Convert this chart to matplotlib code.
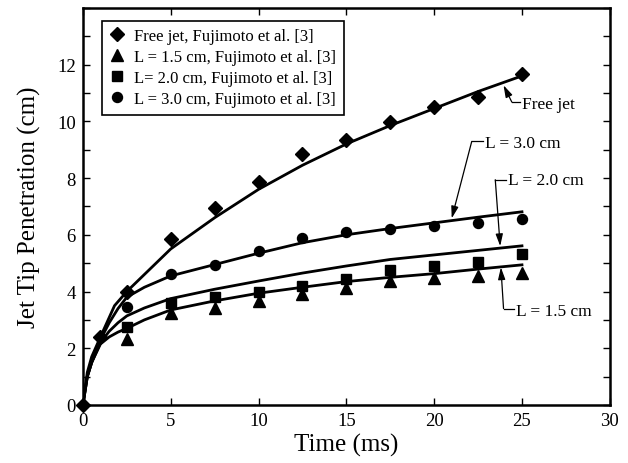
import matplotlib
matplotlib.use("Agg")
import matplotlib.pyplot as plt
from matplotlib.ticker import MultipleLocator

plt.rcParams['font.family'] = ['Liberation Serif', 'DejaVu Serif']
plt.rcParams['mathtext.fontset'] = 'stix'

# Model predictions (ms, cm)
free_model_t = [0, 0.25, 0.5, 1.0, 1.8, 2.5, 3.5, 5, 7.5, 10, 12.5, 15, 17.5, 20, 22.5, 25]
free_model_v = [0, 1.15, 1.7, 2.4, 3.5, 4.0, 4.6, 5.5, 6.6, 7.6, 8.45, 9.2, 9.85, 10.45, 11.05, 11.6]

model_t = [0, 0.25, 0.5, 1, 1.5, 2, 2.5, 3.5, 5, 7.5, 10, 12.5, 15, 17.5, 20, 22.5, 25]
l30_model = [0, 1.0, 1.5, 2.3, 2.9, 3.4, 3.8, 4.15, 4.55, 4.95, 5.35, 5.72, 6.0, 6.22, 6.42, 6.62, 6.81]
l20_model = [0, 1.0, 1.5, 2.2, 2.6, 2.9, 3.14, 3.42, 3.75, 4.08, 4.37, 4.65, 4.9, 5.13, 5.29, 5.45, 5.61]
l15_model = [0, 1.0, 1.5, 2.15, 2.4, 2.57, 2.7, 3.0, 3.35, 3.67, 3.94, 4.15, 4.35, 4.5, 4.63, 4.79, 4.94]

# Measurements, Fujimoto et al. [3]
free_exp_t = [0, 1, 2.5, 5, 7.5, 10, 12.5, 15, 17.5, 20, 22.5, 25]
free_exp = [0, 2.4, 3.99, 5.85, 6.93, 7.87, 8.85, 9.35, 9.99, 10.5, 10.85, 11.65]
exp_t = [2.5, 5, 7.5, 10, 12.5, 15, 17.5, 20, 22.5, 25]
l15_exp = [2.34, 3.26, 3.41, 3.68, 3.9, 4.12, 4.37, 4.46, 4.55, 4.67]
l20_exp = [2.76, 3.59, 3.79, 4.0, 4.2, 4.45, 4.76, 4.9, 5.05, 5.32]
l30_exp = [3.47, 4.61, 4.93, 5.42, 5.9, 6.11, 6.2, 6.3, 6.4, 6.55]

legend_labels = ["Free jet, Fujimoto et al. [3]",
                 "L = 1.5 cm, Fujimoto et al. [3]",
                 "L= 2.0 cm, Fujimoto et al. [3]",
                 "L = 3.0 cm, Fujimoto et al. [3]"]

fig = plt.figure(figsize=(6.28, 4.64), dpi=100)
ax = fig.add_axes([0.132, 0.125, 0.839, 0.856])

lw = 2.0
ax.plot(free_model_t, free_model_v, color='black', lw=lw, zorder=2)
ax.plot(model_t, l30_model, color='black', lw=lw, zorder=2)
ax.plot(model_t, l20_model, color='black', lw=lw, zorder=2)
ax.plot(model_t, l15_model, color='black', lw=lw, zorder=2)

h1, = ax.plot(free_exp_t, free_exp, ls='none', marker='D', ms=7.6, color='black',
              label=legend_labels[0], zorder=3, clip_on=False)
h2, = ax.plot(exp_t, l15_exp, ls='none', marker='^', ms=8.6, color='black',
              label=legend_labels[1], zorder=3)
h3, = ax.plot(exp_t, l20_exp, ls='none', marker='s', ms=6.8, color='black',
              label=legend_labels[2], zorder=3)
h4, = ax.plot(exp_t, l30_exp, ls='none', marker='o', ms=7.2, color='black',
              label=legend_labels[3], zorder=3)

ax.set_xlim(0, 30)
ax.set_ylim(0, 14)
ax.xaxis.set_major_locator(MultipleLocator(5))
ax.yaxis.set_major_locator(MultipleLocator(2))
ax.yaxis.set_minor_locator(MultipleLocator(1))
ax.set_yticks([0, 2, 4, 6, 8, 10, 12])
ax.tick_params(axis='both', which='both', direction='in', top=True, right=True,
               labelsize=13.5, width=1.0, length=5, pad=5, colors='black')
for s in ax.spines.values():
    s.set_linewidth(1.8)

ax.set_xlabel("Time (ms)", fontsize=18, labelpad=3)
ax.set_ylabel("Jet Tip Penetration (cm)", fontsize=18, labelpad=12)

leg = ax.legend(handles=[h1, h2, h3, h4], loc='upper left',
                bbox_to_anchor=(0.036, 0.968), borderaxespad=0,
                fontsize=12, frameon=True, fancybox=False, framealpha=1,
                edgecolor='black', handlelength=0.9, handletextpad=0.6,
                labelspacing=0.3, borderpad=0.45)
leg.get_frame().set_linewidth(1.2)

arrow_kw = dict(arrowstyle='-|>,head_length=0.6,head_width=0.18', color='black', lw=0.9,
                mutation_scale=12, shrinkA=0, shrinkB=0)
ann_fs = 12.5

def callout(text, text_xy, elbow_xy, tip_xy):
    ax.text(text_xy[0], text_xy[1], text, fontsize=ann_fs, ha='left', va='center')
    ax.plot([elbow_xy[0], text_xy[0] - 0.1], [elbow_xy[1], elbow_xy[1]],
            color='black', lw=0.9)
    ax.annotate('', xy=tip_xy, xytext=elbow_xy, arrowprops=arrow_kw)

callout("Free jet", (25.0, 10.6), (24.42, 10.68), (23.95, 11.27))
callout("L = 3.0 cm", (22.9, 9.25), (22.14, 9.29), (21.0, 6.58))
callout("L = 2.0 cm", (24.2, 7.92), (23.48, 7.94), (23.76, 5.6))
callout("L = 1.5 cm", (24.65, 3.33), (23.95, 3.40), (23.8, 4.85))

fig.savefig("out.png", dpi=100)
